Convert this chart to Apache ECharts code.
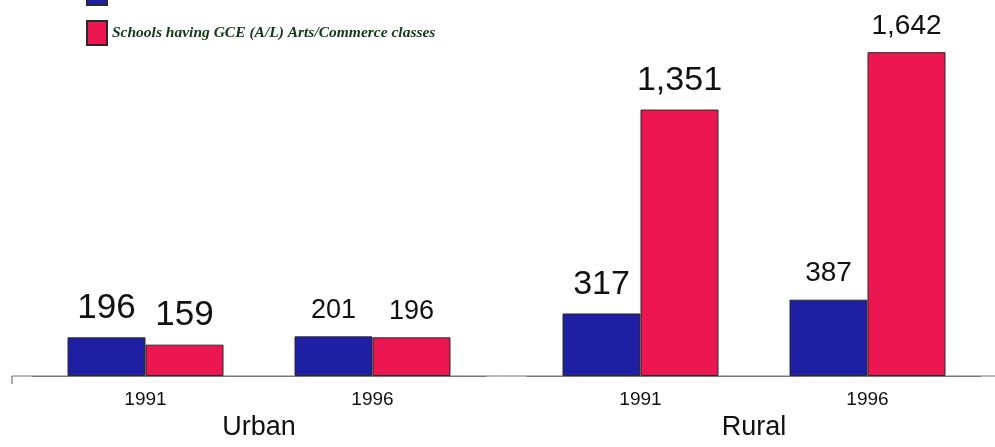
<!DOCTYPE html>
<html>
<head>
<meta charset="utf-8">
<script src="https://cdn.jsdelivr.net/npm/echarts@6/dist/echarts.min.js"></script>
<style>
  html, body { margin: 0; padding: 0; background: #fff; }
  #main { width: 995px; height: 447px; }
</style>
</head>
<body>
<div id="main"></div>
<script>
// data
var years = ['1991', '1996'];
var groupNames = ['Urban', 'Rural'];
var seriesNames = [
  'Schools having GCE (A/L) Science classes',
  'Schools having GCE (A/L) Arts/Commerce classes'
];
var urbanScience = [196, 201];
var urbanArts = [159, 196];
var ruralScience = [317, 387];
var ruralArts = [1351, 1642];

// label sizes differ per column in the original print
var urbanLabelSize = [35, 27];
var ruralLabelSize = [34, 28];

var blue = '#1f1fa3';
var red = '#ec1650';
var gridBottom = 71;
var baseY = 447 - gridBottom;

var myChart = echarts.init(document.getElementById('main'));

function bars(name, values, sizes, color, gridIdx) {
  return {
    name: name,
    type: 'bar',
    xAxisIndex: gridIdx,
    yAxisIndex: gridIdx,
    barWidth: 78,
    barGap: '0%',
    itemStyle: { color: color, borderColor: '#2a2a2a', borderWidth: 1 },
    data: values.map(function (v, i) {
      return { value: v, label: { fontSize: sizes[i] } };
    }),
    label: {
      show: true,
      position: 'top',
      distance: 12,
      color: '#111',
      fontFamily: 'Liberation Sans, Arial, sans-serif',
      formatter: function (p) { return p.value.toLocaleString('en-US'); }
    }
  };
}

function xAxisFor(gridIdx) {
  return {
    type: 'category',
    gridIndex: gridIdx,
    data: years,
    name: groupNames[gridIdx],
    nameLocation: 'middle',
    nameGap: 29,
    nameTextStyle: { fontSize: 27, color: '#111', fontFamily: 'Liberation Sans, Arial, sans-serif' },
    axisLine: { show: true, lineStyle: { color: '#777', width: 1 } },
    axisTick: { show: false },
    axisLabel: { margin: 14, fontSize: 19, color: '#111', fontFamily: 'Liberation Sans, Arial, sans-serif' }
  };
}

function yAxisFor(gridIdx) {
  return {
    type: 'value',
    gridIndex: gridIdx,
    min: 0,
    max: 1800,
    show: false
  };
}

myChart.setOption({
  backgroundColor: '#fff',
  animation: false,
  color: [blue, red],
  legend: {
    orient: 'vertical',
    left: 81,
    top: -25,
    icon: 'rect',
    itemWidth: 20,
    itemHeight: 24,
    itemGap: 14,
    data: seriesNames,
    textStyle: {
      fontFamily: 'Liberation Serif, Times New Roman, serif',
      fontStyle: 'italic',
      fontWeight: 'bold',
      fontSize: 15.5,
      color: '#0f3a14'
    }
  },
  grid: [
    { left: 32, width: 454, top: 21, bottom: gridBottom, outerBoundsMode: 'none' },
    { left: 527, width: 454, top: 21, bottom: gridBottom, outerBoundsMode: 'none' }
  ],
  xAxis: [xAxisFor(0), xAxisFor(1)],
  yAxis: [yAxisFor(0), yAxisFor(1)],
  // baseline pieces outside the two grids
  graphic: [
    { type: 'line', shape: { x1: 12, y1: baseY, x2: 995, y2: baseY }, style: { stroke: '#777', lineWidth: 1 }, z: 0 },
    { type: 'line', shape: { x1: 12, y1: baseY, x2: 12, y2: baseY + 8 }, style: { stroke: '#555', lineWidth: 1 } }
  ],
  series: [
    bars(seriesNames[0], urbanScience, urbanLabelSize, blue, 0),
    bars(seriesNames[1], urbanArts, urbanLabelSize, red, 0),
    bars(seriesNames[0], ruralScience, ruralLabelSize, blue, 1),
    bars(seriesNames[1], ruralArts, ruralLabelSize, red, 1)
  ]
});
</script>
</body>
</html>
